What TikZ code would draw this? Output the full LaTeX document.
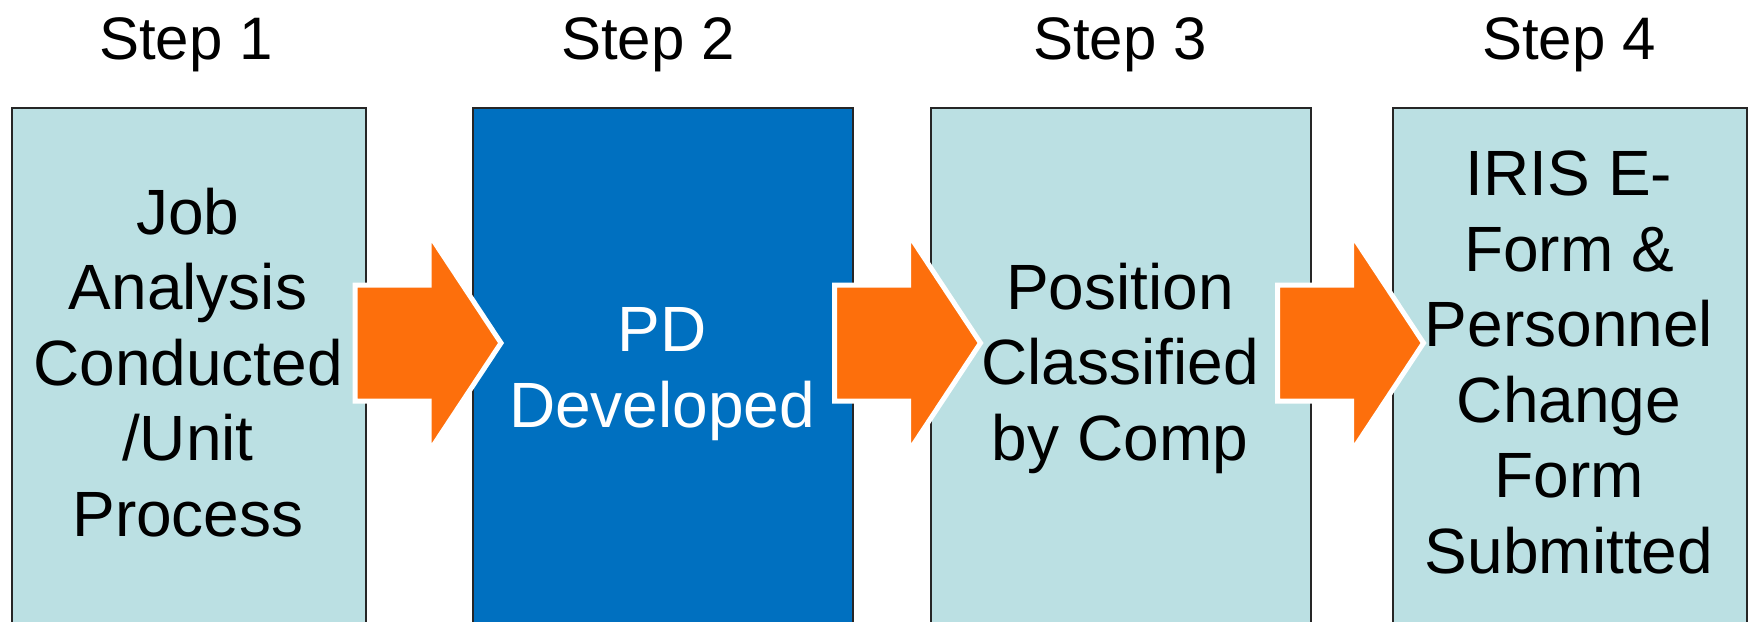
\documentclass[tikz,border=0pt]{standalone}
\usepackage{fontspec}
\setmainfont{Liberation Sans}
\definecolor{panel}{HTML}{BBE0E3}
\definecolor{panelblue}{HTML}{0070C0}
\definecolor{flow}{HTML}{FD6F0C}
\definecolor{edge}{HTML}{262626}
\tikzset{
  stepbox/.style={draw=edge, line width=1.5pt, rectangle, inner sep=0pt,
    anchor=north west, minimum height=560pt},
  % anchored at the baseline of the last line
  boxtext/.style={anchor=base, align=center, inner sep=0pt,
    font=\fontsize{64pt}{75.5pt}\selectfont},
  steplabel/.style={anchor=base, inner sep=0pt,
    font=\fontsize{60pt}{70pt}\selectfont},
  pics/flowarrow/.style={code={
    \draw[white, line width=5pt, fill=flow, miter limit=10]
      (0,-58) -- (74,-58) -- (74,-109) -- (146,0) -- (74,109) -- (74,58)
      -- (0,58) -- cycle;}}
}
\begin{document}
\begin{tikzpicture}[x=1pt, y=-1pt]
  \clip (0,0) rectangle (1750,621);
  \fill[white] (0,0) rectangle (1750,621);

  % step headings
  \node[steplabel] (s1) at (186,59) {Step 1};
  \node[steplabel] (s2) at (648,59) {Step 2};
  \node[steplabel] (s3) at (1120,59) {Step 3};
  \node[steplabel] (s4) at (1569,59) {Step 4};

  % step panels
  \node[stepbox, fill=panel, minimum width=354pt] (b1) at (11,107) {};
  \node[stepbox, fill=panelblue, minimum width=380pt] (b2) at (472,107) {};
  \node[stepbox, fill=panel, minimum width=380pt] (b3) at (930,107) {};
  \node[stepbox, fill=panel, minimum width=354pt] (b4) at (1392,107) {};

  % panel texts
  \node[boxtext] (t1) at (188,536) {Job\\Analysis\\Conducted\\/Unit\\Process};
  \node[boxtext, text=white] (t2) at (662,427) {PD\\Developed};
  \node[boxtext] (t3) at (1120,460) {Position\\Classified\\by Comp};
  \node[boxtext] (t4) at (1569,573) {IRIS E-\\Form \&\\Personnel\\Change\\Form\\Submitted};

  % block arrows between the panels
  \coordinate (a1) at (355,343);
  \coordinate (a2) at (834.5,343);
  \coordinate (a3) at (1277.5,343);
  \pic at (a1) {flowarrow};
  \pic at (a2) {flowarrow};
  \pic at (a3) {flowarrow};
\end{tikzpicture}
\end{document}
